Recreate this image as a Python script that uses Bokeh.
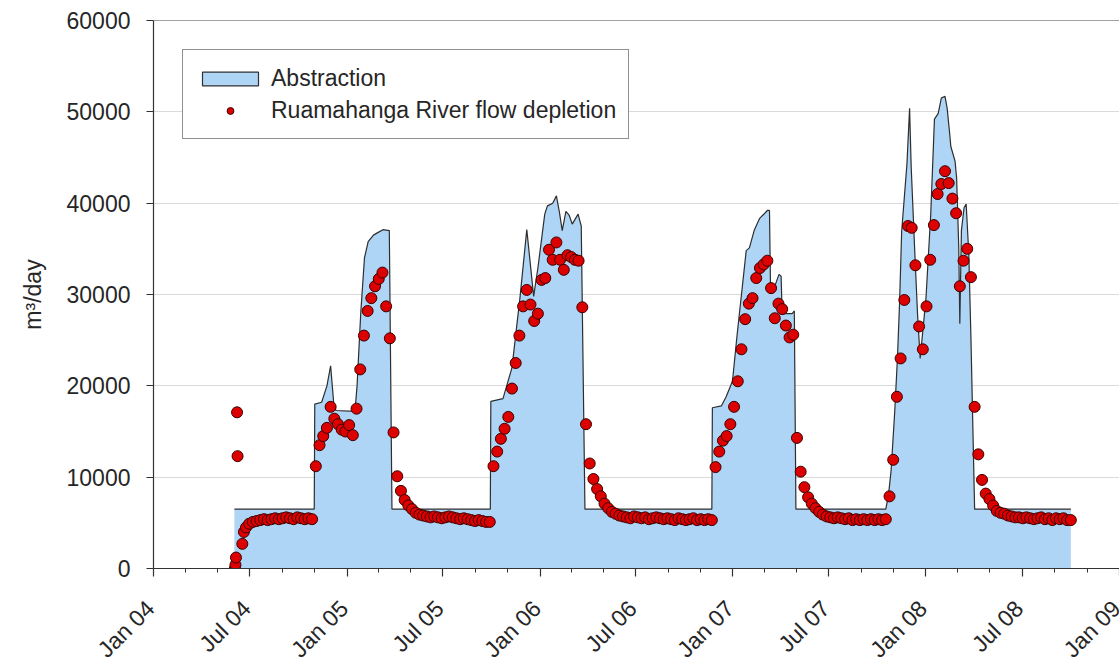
import math
import numpy as np
import pandas as pd
from bokeh.plotting import figure
from bokeh.models import (FixedTicker, CustomJSTickFormatter, NumeralTickFormatter, Legend,
                          LegendItem, Span, Range1d, ColumnDataSource)
from bokeh.core.properties import value
from bokeh.embed import file_html
from bokeh.resources import INLINE

FONT = "Liberation Sans"
TXT = "#262626"

# ---------------- data ----------------
# Abstraction (m3/day), breakpoints of the line
abs_dates = [
    "2004-06-02", "2004-10-31", "2004-11-01", "2004-11-14", "2004-11-24", "2004-12-01",
    "2004-12-07", "2004-12-11", "2005-01-16", "2005-01-20", "2005-01-27", "2005-02-03",
    "2005-02-10", "2005-02-20", "2005-03-01", "2005-03-10", "2005-03-22", "2005-03-27",
    "2005-09-29", "2005-09-30", "2005-10-23", "2005-11-09", "2005-11-24", "2005-12-07",
    "2005-12-20", "2005-12-28", "2006-01-10", "2006-01-15", "2006-01-25", "2006-02-01",
    "2006-02-07", "2006-02-12", "2006-02-19", "2006-02-25", "2006-03-03", "2006-03-08",
    "2006-03-14", "2006-03-20", "2006-03-27",
    "2006-11-22", "2006-11-23", "2006-12-10", "2006-12-19", "2006-12-31", "2007-01-09",
    "2007-01-26", "2007-02-01", "2007-02-10", "2007-02-20", "2007-03-07", "2007-03-11",
    "2007-03-13", "2007-03-16", "2007-03-29", "2007-04-02", "2007-04-04", "2007-04-23",
    "2007-04-27", "2007-04-30",
    "2007-10-17", "2007-10-22", "2007-10-27", "2007-11-03", "2007-11-08", "2007-11-12",
    "2007-11-16", "2007-11-26", "2007-12-01", "2007-12-04", "2007-12-11", "2007-12-16",
    "2007-12-21", "2008-01-01", "2008-01-10", "2008-01-17", "2008-01-24", "2008-01-30",
    "2008-02-06", "2008-02-10", "2008-02-15", "2008-02-17", "2008-02-25", "2008-02-28",
    "2008-03-03", "2008-03-05", "2008-03-08", "2008-03-13", "2008-03-17", "2008-03-22",
    "2008-03-26", "2008-04-02", "2008-10-01",
]
abs_values = [
    6500, 6500, 18000, 18200, 20000, 22200,
    18000, 17300, 17200, 20000, 28000, 34000,
    35800, 36500, 36800, 37100, 37000, 6500,
    6500, 18300, 18600, 22000, 29600, 37100,
    29800, 32900, 38800, 39700, 40000, 40800,
    38900, 37000, 39100, 38700, 37700, 38200,
    38800, 37500, 6500,
    6500, 17600, 17800, 18800, 20500, 25700,
    34800, 35100, 37000, 38300, 39200, 39200,
    30400, 30100, 32200, 32000, 27900, 27900,
    28200, 6500,
    6500, 8000, 10700, 17300, 23000, 29000,
    36900, 44300, 50400, 44000, 34400, 27900,
    23000, 29600, 38800, 49200, 49800, 51500,
    51700, 50400, 47500, 46200, 44600, 42700,
    35100, 26800, 37000, 39500, 39900, 34400,
    25300, 6500, 6500,
]

# Ruamahanga River flow depletion (m3/day)
dep_startup_dates = ["2004-06-03", "2004-06-04", "2004-06-05", "2004-06-07",
                     "2004-06-08", "2004-06-17", "2004-06-20", "2004-06-24"]
dep_startup_values = [0, 400, 1200, 17100, 12300, 2700, 4000, 4500]

dep_weekly_start = "2004-06-30"
dep_winter_2004 = [4900, 5100, 5200, 5300, 5400, 5300, 5400, 5500, 5400, 5500, 5600, 5500,
                   5400, 5600, 5500, 5400, 5500, 5400]
dep_summer_2005 = [11200, 13500, 14500, 15400, 17700, 16400, 15800, 15200, 15000, 15700,
                   14600, 17500, 21800, 25500, 28200, 29600, 30900, 31700, 32400, 28700,
                   25200, 14900, 10100]
dep_winter_2005 = [8500, 7500, 6900, 6500, 6100, 5900, 5800, 5700, 5600, 5700, 5600, 5500,
                   5600, 5700, 5600, 5500, 5400, 5500, 5400, 5300, 5200, 5300, 5200, 5100, 5100]
dep_summer_2006 = [11200, 12800, 14200, 15300, 16600, 19700, 22500, 25500, 28700, 30500,
                   28900, 27100, 27900, 31600, 31800, 34900, 33800, 35700, 33800, 32700,
                   34300, 34100, 33800, 33700, 28600, 15800, 11500, 9800, 8700, 7900,
                   7100, 6600, 6200, 6000, 5800]
dep_winter_2006 = [5700, 5600, 5500, 5700, 5600, 5500, 5600, 5400, 5500, 5600, 5500, 5400,
                   5500, 5400, 5300, 5500, 5400, 5300, 5400, 5500, 5300, 5400, 5300, 5400, 5300]
dep_summer_2007 = [11100, 12800, 14000, 14500, 15800, 17700, 20500, 24000, 27300, 29000,
                   29600, 31800, 32900, 33300, 33700, 30700, 27400, 29000, 28400, 26600,
                   25300, 25600, 14300, 10600, 8900, 7800, 7100, 6600, 6200, 5900]
dep_winter_2007 = [5700, 5600, 5500, 5600, 5500, 5400, 5500, 5300, 5400, 5300, 5400, 5300,
                   5400, 5300, 5400, 5300, 5400]
dep_summer_2008 = [7900, 11900, 18800, 23000, 29400, 37500, 37300, 33200, 26500, 24000,
                   28700, 33800, 37600, 41000, 42100, 43500, 42200, 40500, 38900, 30900,
                   33700, 35000, 31900, 17700, 12500, 9700, 8200, 7600, 6900, 6300]
dep_winter_2008 = [6100, 6000, 5800, 5700, 5600, 5600, 5500, 5600, 5500, 5400, 5500, 5600,
                   5400, 5500, 5300, 5500, 5400, 5500, 5300, 5300]

tick_years = [2004, 2005, 2006, 2007, 2008, 2009]
major_months = [1, 7]
minor_months = [3, 5, 9, 11]
y_ticks = [0, 10000, 20000, 30000, 40000, 50000, 60000]

# ---------------- build ----------------
abs_x = pd.to_datetime(abs_dates)
weekly_vals = (dep_winter_2004 + dep_summer_2005 + dep_winter_2005 + dep_summer_2006 +
               dep_winter_2006 + dep_summer_2007 + dep_winter_2007 + dep_summer_2008 +
               dep_winter_2008)
weekly_x = pd.date_range(dep_weekly_start, periods=len(weekly_vals), freq="7D")
dep_x = list(pd.to_datetime(dep_startup_dates)) + list(weekly_x)
dep_y = dep_startup_values + weekly_vals

def ms(ts):
    return pd.Timestamp(ts).timestamp() * 1000.0

major_dates = [pd.Timestamp(f"{y}-{m:02d}-01") for y in tick_years for m in major_months
               if pd.Timestamp(f"{y}-{m:02d}-01") <= pd.Timestamp("2009-01-01")]
major_ticks = [ms(d) for d in major_dates]
major_text = [d.strftime("%b %y") for d in major_dates]
minor_ticks = [ms(f"{y}-{m:02d}-01") for y in tick_years[:-1] for m in minor_months]

W = 1119
LEFT = 153
TOP_H = 592
BOT_H = 659 - TOP_H
t0, t1 = ms("2004-01-01"), ms("2009-01-01")

p = figure(width=W, height=TOP_H, x_axis_type="datetime", output_backend="svg",
           toolbar_location=None,
           x_range=Range1d(t0, t1), y_range=Range1d(0, 60000),
           min_border_left=LEFT, min_border_right=0, min_border_top=20, min_border_bottom=24)
p.outline_line_color = None
p.background_fill_color = "white"
p.border_fill_color = "white"

src_abs = ColumnDataSource(dict(x=abs_x, y=abs_values))
p.varea(x="x", y1=0, y2="y", source=src_abs, fill_color="#AED5F6")
p.line(x="x", y="y", source=src_abs, line_color="#2E2E2E", line_width=1.2)

src_dep = ColumnDataSource(dict(x=dep_x, y=dep_y))
dots = p.scatter(x="x", y="y", source=src_dep, size=11, fill_color="#DD0000",
                 line_color="#3C0000", line_width=1)

# legend proxy for the abstraction (filled box with outline)
proxy = p.quad(left=[np.nan], right=[np.nan], top=[np.nan], bottom=[np.nan],
               fill_color="#AED5F6", line_color="#2E2E2E", line_width=1.2)

p.add_layout(Span(location=60000, dimension="width", line_color="#444444", line_width=1.2))

# axes
p.xaxis.ticker = FixedTicker(ticks=major_ticks, minor_ticks=minor_ticks)
p.xaxis.formatter = CustomJSTickFormatter(code="return ''")
p.yaxis.ticker = FixedTicker(ticks=y_ticks)
p.yaxis.formatter = NumeralTickFormatter(format="0")
p.yaxis.axis_label = "m³/day"

for ax in (p.xaxis, p.yaxis):
    ax.axis_line_color = "#333333"
    ax.axis_line_width = 1.2
    ax.major_tick_line_color = "#333333"
    ax.major_tick_line_width = 1.2
    ax.minor_tick_line_color = "#333333"
    ax.major_tick_in = 0
    ax.minor_tick_in = 0
    ax.major_label_text_font = FONT
    ax.major_label_text_font_size = "23px"
    ax.major_label_text_color = TXT
    ax.axis_label_text_font = FONT
    ax.axis_label_text_font_size = "23px"
    ax.axis_label_text_font_style = "normal"
    ax.axis_label_text_color = TXT

p.xaxis.major_tick_out = 8
p.xaxis.minor_tick_out = 4
p.xaxis.major_label_standoff = 0
p.xaxis.major_label_text_font_size = "0px"
p.yaxis.major_tick_out = 7
p.yaxis.minor_tick_line_color = None
p.yaxis.major_label_standoff = 16
p.yaxis.axis_label_standoff = 18

p.xgrid.visible = False
p.ygrid.grid_line_color = "#DADADA"
p.ygrid.grid_line_width = 1

legend = Legend(items=[LegendItem(label="Abstraction", renderers=[proxy]),
                       LegendItem(label="Ruamahanga River flow depletion", renderers=[dots])],
                location="top_left", margin=29, padding=12, spacing=0,
                glyph_width=70, glyph_height=17, label_height=32, label_standoff=6,
                label_text_font=FONT, label_text_font_size="23px", label_text_color=TXT,
                border_line_color="#222222", border_line_width=1.2,
                background_fill_color="white", background_fill_alpha=1.0)
p.add_layout(legend)

# strip under the chart carrying the rotated date labels, on the same time scale
x_lo = t0 - (t1 - t0) * LEFT / (W - LEFT)
q = figure(width=W, height=BOT_H, output_backend="svg", toolbar_location=None,
           x_range=Range1d(x_lo, t1), y_range=Range1d(-1, 0),
           min_border_left=0, min_border_right=0, min_border_top=0, min_border_bottom=0)
q.axis.visible = False
q.grid.visible = False
q.outline_line_color = None
q.background_fill_color = "white"
q.border_fill_color = "white"
tick_src = ColumnDataSource(dict(x=major_ticks, y=[0] * len(major_ticks), text=major_text))
q.text(x="x", y="y", text="text", source=tick_src, x_offset=-3, y_offset=12,
       angle=math.pi / 4, text_align="right", text_baseline="middle",
       text_font=value(FONT), text_font_size="23px", text_color=TXT)

open("out.html", "w").write(file_html([p, q], INLINE))
